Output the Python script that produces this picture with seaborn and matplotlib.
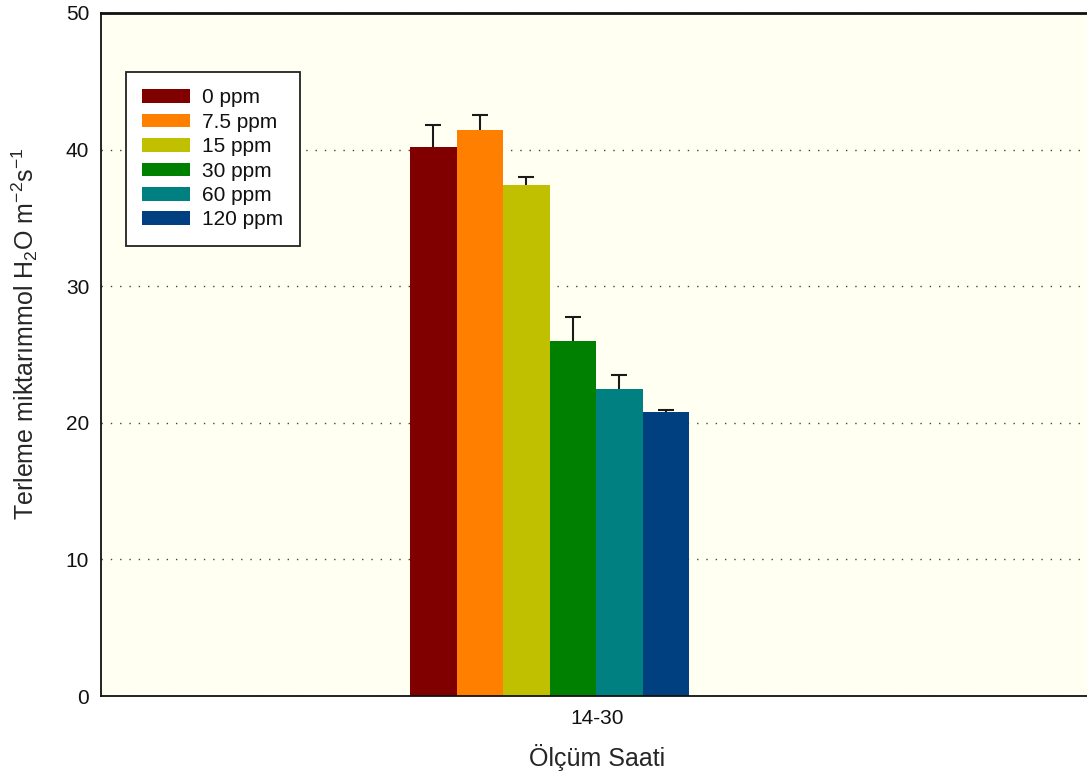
import matplotlib
matplotlib.use("Agg")
import matplotlib.pyplot as plt
import seaborn as sns
import pandas as pd

# Transpiration measurements at 14-30 for each dose
hour = "14-30"
doses = ["0 ppm", "7.5 ppm", "15 ppm", "30 ppm", "60 ppm", "120 ppm"]
means = [40.2, 41.4, 37.4, 26.0, 22.5, 20.8]
errors = [1.6, 1.1, 0.6, 1.75, 1.0, 0.15]
palette = ["#800000", "#FF8000", "#C0C000", "#008000", "#008080", "#004080"]

sns.set_style("white")
plt.rcParams["font.family"] = ["Liberation Sans", "DejaVu Sans"]
plt.rcParams["mathtext.fontset"] = "custom"
plt.rcParams["mathtext.rm"] = "Liberation Sans"
plt.rcParams["mathtext.it"] = "Liberation Sans"
plt.rcParams["text.color"] = "#111111"

df = pd.DataFrame({"saat": [hour] * len(doses), "doz": doses, "deger": means})

fig = plt.figure(figsize=(10.87, 7.74), dpi=100)
ax = fig.add_axes([101 / 1087, 78 / 774, 992 / 1087, 683 / 774])
ax.set_facecolor("#FFFFF2")

sns.barplot(data=df, x="saat", y="deger", hue="doz", hue_order=doses,
            palette=palette, errorbar=None, width=0.8, saturation=1,
            linewidth=0, ax=ax)

# one-sided error bars on top of each bar
bars = [p for p in ax.patches if p.get_height() > 0]
bars.sort(key=lambda p: p.get_x())
cx = [p.get_x() + p.get_width() / 2 for p in bars]
tops = [p.get_height() for p in bars]
_, caps, _ = ax.errorbar(cx, tops, yerr=[[0] * len(errors), errors], fmt="none",
                         ecolor="#1a1a1a", elinewidth=1.5, capsize=5.7,
                         capthick=1.5, zorder=3)
caps[0].remove()  # no cap at the bar top

unit = 279 / 0.8
ax.set_xlim(-(549.5 - 101) / unit, (1093 - 549.5) / unit)
ax.set_xticks([(597 - 549.5) / unit])
ax.set_xticklabels([hour])
ax.set_ylim(0, 50)
ax.set_yticks([0, 10, 20, 30, 40, 50])

ax.yaxis.grid(True, linestyle=(0, (1, 5.7)), color="#444444", linewidth=1)
ax.set_axisbelow(True)
ax.tick_params(axis="both", length=0, labelsize=15, colors="#111111")
ax.tick_params(axis="y", pad=8.5)
ax.tick_params(axis="x", pad=9)

for s in ["left", "bottom", "top"]:
    ax.spines[s].set_color("#111111")
    ax.spines[s].set_linewidth(1.3)
ax.spines["top"].set_linewidth(2)
ax.spines["right"].set_visible(False)

ax.set_xlabel("Ölçüm Saati", fontsize=18, labelpad=12)
ax.set_ylabel("Terleme miktarımmol H$_2$O m$^{-2}$s$^{-1}$", fontsize=18)
ax.yaxis.set_label_coords(-0.0615, 0.53)

leg = ax.legend(loc="upper left", bbox_to_anchor=(0.025, 0.914), fontsize=15,
                frameon=True, fancybox=False, framealpha=1, edgecolor="#222222",
                handlelength=2.3, handleheight=0.63, labelspacing=0.26,
                borderpad=0.8, handletextpad=0.58, borderaxespad=0)
leg.get_frame().set_linewidth(1.3)

fig.savefig("out.png", dpi=100)
